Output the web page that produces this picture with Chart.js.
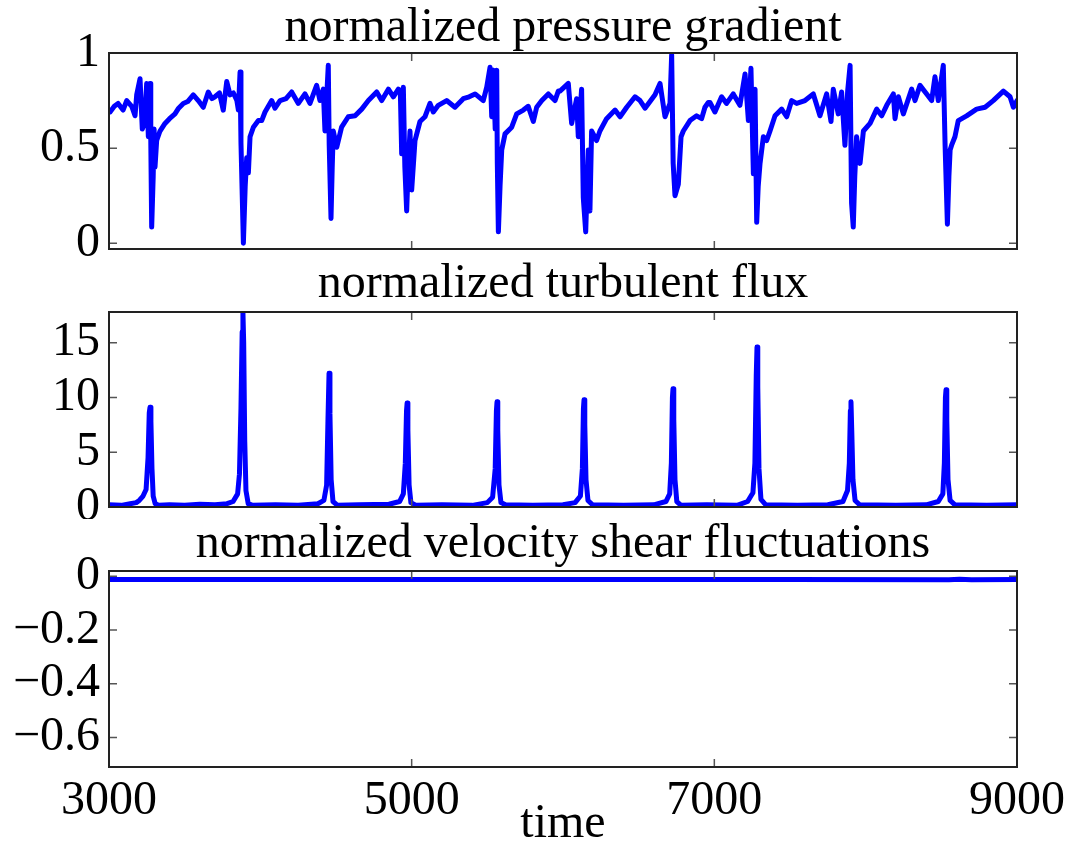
<!DOCTYPE html>
<html>
<head>
<meta charset="utf-8">
<script src="https://cdn.jsdelivr.net/npm/chart.js@4"></script>
<style>
  html, body { margin: 0; padding: 0; background: #fff; }
  .panel { position: absolute; left: 0; }
</style>
</head>
<body>
<div class="panel" style="top:0px"><canvas id="pressure-chart" width="1084" height="260"></canvas></div>
<div class="panel" style="top:260px"><canvas id="flux-chart" width="1084" height="259"></canvas></div>
<div class="panel" style="top:519px"><canvas id="shear-chart" width="1084" height="326"></canvas></div>
<script>
// x axis (time)
const xTicks = [3000, 5000, 7000, 9000];

// normalized pressure gradient
const pgTime = [3000, 3007, 3035, 3060, 3093, 3117, 3150, 3172, 3183, 3205, 3220, 3235, 3249, 3260, 3271, 3276, 3282, 3292, 3298, 3304,
  3315, 3337, 3370, 3400, 3436, 3460, 3491, 3520, 3557, 3590, 3623, 3656, 3680, 3700, 3730, 3755, 3778, 3800, 3822, 3845,
  3855, 3866, 3872, 3888, 3900, 3910, 3921, 3932, 3954, 3987, 4009, 4031, 4075, 4097, 4130, 4170, 4207, 4251, 4295, 4328,
  4372, 4394, 4416, 4427, 4449, 4455, 4467, 4475, 4482, 4505, 4537, 4581, 4626, 4670, 4714, 4769, 4802, 4846, 4879, 4912,
  4925, 4934, 4945, 4955, 4967, 4978, 4989, 5000, 5022, 5055, 5088, 5121, 5143, 5176, 5231, 5286, 5341, 5380, 5419, 5473,
  5496, 5518, 5529, 5540, 5552, 5562, 5566, 5573, 5584, 5595, 5617, 5661, 5694, 5738, 5770, 5804, 5826, 5860, 5903, 5947,
  5969, 5980, 6035, 6057, 6090, 6101, 6123, 6134, 6150, 6167, 6178, 6189, 6222, 6244, 6288, 6344, 6377, 6421, 6476, 6509,
  6542, 6608, 6641, 6674, 6707, 6718, 6728, 6740, 6762, 6780, 6795, 6839, 6883, 6916, 6938, 6960, 6971, 7004, 7048, 7081,
  7125, 7169, 7203, 7225, 7242, 7258, 7269, 7280, 7290, 7302, 7324, 7346, 7368, 7401, 7445, 7478, 7511, 7544, 7599, 7654,
  7698, 7742, 7771, 7786, 7819, 7841, 7863, 7881, 7897, 7907, 7918, 7928, 7940, 7963, 7985, 8029, 8073, 8106, 8139, 8183,
  8194, 8216, 8249, 8304, 8326, 8359, 8403, 8436, 8458, 8480, 8513, 8525, 8540, 8550, 8558, 8570, 8590, 8612, 8667, 8733,
  8789, 8843, 8910, 8954, 8976, 9000];
const pgValue = [0.70, 0.69, 0.72, 0.735, 0.70, 0.75, 0.72, 0.67, 0.78, 0.865, 0.60, 0.63, 0.84, 0.56, 0.84, 0.55, 0.085, 0.35, 0.60, 0.40,
  0.54, 0.59, 0.63, 0.655, 0.68, 0.71, 0.735, 0.745, 0.78, 0.75, 0.715, 0.795, 0.76, 0.77, 0.79, 0.70, 0.85, 0.78, 0.79, 0.75,
  0.70, 0.90, 0.53, 0.0, 0.30, 0.45, 0.37, 0.56, 0.61, 0.645, 0.645, 0.69, 0.75, 0.71, 0.75, 0.76, 0.795, 0.735, 0.785, 0.735,
  0.83, 0.75, 0.81, 0.59, 0.935, 0.52, 0.13, 0.40, 0.59, 0.505, 0.61, 0.665, 0.67, 0.705, 0.75, 0.795, 0.75, 0.81, 0.77, 0.81,
  0.80, 0.47, 0.82, 0.40, 0.17, 0.42, 0.59, 0.28, 0.54, 0.64, 0.665, 0.735, 0.69, 0.725, 0.75, 0.715, 0.76, 0.77, 0.785, 0.75,
  0.82, 0.925, 0.665, 0.91, 0.60, 0.91, 0.42, 0.06, 0.30, 0.49, 0.575, 0.61, 0.68, 0.70, 0.72, 0.64, 0.715, 0.75, 0.785, 0.75,
  0.80, 0.80, 0.84, 0.63, 0.76, 0.56, 0.81, 0.24, 0.06, 0.49, 0.17, 0.59, 0.54, 0.59, 0.655, 0.70, 0.665, 0.715, 0.77, 0.75,
  0.71, 0.78, 0.84, 0.665, 0.735, 0.99, 0.42, 0.25, 0.31, 0.56, 0.59, 0.645, 0.67, 0.655, 0.715, 0.74, 0.74, 0.69, 0.77, 0.735,
  0.785, 0.725, 0.89, 0.645, 0.92, 0.365, 0.81, 0.11, 0.30, 0.42, 0.56, 0.54, 0.59, 0.67, 0.705, 0.665, 0.75, 0.735, 0.75, 0.785,
  0.67, 0.785, 0.64, 0.81, 0.68, 0.795, 0.515, 0.80, 0.935, 0.21, 0.085, 0.35, 0.56, 0.42, 0.59, 0.63, 0.705, 0.67, 0.725, 0.785,
  0.655, 0.77, 0.68, 0.81, 0.75, 0.83, 0.785, 0.75, 0.875, 0.75, 0.935, 0.51, 0.10, 0.35, 0.49, 0.52, 0.56, 0.645, 0.67, 0.705,
  0.715, 0.75, 0.80, 0.77, 0.715, 0.75];
const pgTicks = [0, 0.5, 1];

// normalized turbulent flux
const tfTime = [3000, 3080, 3140, 3180, 3200, 3225, 3245, 3258, 3266, 3271, 3277, 3284, 3292, 3305, 3330,
  3400, 3500, 3600, 3700, 3780, 3820, 3850, 3862, 3872, 3880, 3885, 3890, 3897, 3905, 3920, 3950,
  4100, 4250, 4380, 4420, 4438, 4447, 4454, 4460, 4468, 4480, 4510,
  4650, 4850, 4920, 4945, 4958, 4966, 4970, 4975, 4983, 4995, 5030,
  5200, 5400, 5500, 5535, 5552, 5560, 5564, 5569, 5577, 5590, 5620,
  5800, 6000, 6080, 6115, 6128, 6135, 6139, 6144, 6152, 6165, 6195,
  6400, 6600, 6680, 6705, 6716, 6723, 6727, 6732, 6740, 6752, 6780,
  6950, 7150, 7220, 7255, 7268, 7277, 7282, 7287, 7295, 7308, 7340,
  7550, 7750, 7850, 7880, 7892, 7899, 7903, 7908, 7916, 7930, 7960,
  8200, 8400, 8480, 8510, 8520, 8527, 8531, 8536, 8544, 8558, 8590,
  8800, 9000];
const tfValue = [0.2, 0.15, 0.3, 0.4, 0.6, 1.0, 1.6, 4.5, 8.6, 9.1, 7.8, 3.5, 1.0, 0.3, 0.15,
  0.2, 0.15, 0.25, 0.2, 0.3, 0.5, 1.2, 3.0, 9.0, 16.0, 17.8, 15.0, 6.0, 1.5, 0.3, 0.15,
  0.2, 0.15, 0.3, 0.6, 2.0, 8.0, 12.2, 8.5, 2.5, 0.5, 0.15,
  0.2, 0.25, 0.5, 1.2, 4.0, 8.8, 9.5, 7.0, 2.0, 0.4, 0.15,
  0.2, 0.15, 0.4, 0.9, 3.5, 8.8, 9.6, 7.0, 2.0, 0.4, 0.2,
  0.15, 0.2, 0.4, 1.0, 3.5, 9.0, 9.8, 7.5, 2.5, 0.6, 0.2,
  0.15, 0.2, 0.5, 1.2, 4.0, 10.0, 10.8, 8.0, 2.5, 0.5, 0.15,
  0.2, 0.15, 0.5, 1.3, 4.0, 12.0, 14.6, 11.0, 3.5, 0.7, 0.2,
  0.15, 0.2, 0.5, 1.5, 4.0, 8.8, 9.6, 7.0, 2.5, 0.6, 0.2,
  0.15, 0.2, 0.5, 1.2, 4.0, 10.0, 10.7, 8.0, 2.5, 0.6, 0.2,
  0.15, 0.2];
const tfTicks = [0, 5, 10, 15];

// normalized velocity shear fluctuations
const vsTime = [3000, 4500, 6000, 7500, 8550, 8620, 8700, 9000];
const vsValue = [-0.012, -0.012, -0.012, -0.012, -0.013, -0.011, -0.013, -0.012];
const vsTicks = [-0.6, -0.4, -0.2, 0];

Chart.defaults.font.family = '"Liberation Serif", "Times New Roman", serif';
Chart.defaults.font.size = 48;
Chart.defaults.color = '#000';

// box around the plot area, with ticks pointing inwards
const frame = {
  id: 'frame',
  afterDatasetsDraw(chart) {
    const { ctx, chartArea: a, scales: { x, y } } = chart;
    ctx.save();
    ctx.strokeStyle = '#555';
    ctx.lineWidth = 1.5;
    ctx.beginPath();
    x.ticks.forEach(t => {
      const px = x.getPixelForValue(t.value);
      ctx.moveTo(px, a.bottom); ctx.lineTo(px, a.bottom - 8);
      ctx.moveTo(px, a.top); ctx.lineTo(px, a.top + 8);
    });
    y.ticks.forEach(t => {
      const py = y.getPixelForValue(t.value);
      ctx.moveTo(a.left, py); ctx.lineTo(a.left + 8, py);
      ctx.moveTo(a.right, py); ctx.lineTo(a.right - 8, py);
    });
    ctx.stroke();
    ctx.strokeStyle = '#222';
    ctx.lineWidth = 2;
    ctx.strokeRect(a.left, a.top, a.width, a.height);
    ctx.restore();
  }
};

function fmt(v) {
  return v < 0 ? '\u2212' + Math.abs(v) : String(v);
}

function makeChart(id, times, values, yMin, yMax, yTicks, title, titlePad, bottomPad, showX) {
  const ctx = document.getElementById(id).getContext('2d');
  return new Chart(ctx, {
    type: 'line',
    data: {
      datasets: [{
        data: times.map((t, i) => ({ x: t, y: values[i] })),
        borderColor: '#0000ff',
        borderWidth: 5,
        borderJoinStyle: 'round',
        borderCapStyle: 'round',
        pointRadius: 0,
        tension: 0
      }]
    },
    options: {
      responsive: false,
      animation: false,
      devicePixelRatio: 1,
      layout: { padding: { left: 0, right: 67, top: 0, bottom: bottomPad } },
      plugins: {
        legend: { display: false },
        tooltip: { enabled: false },
        title: {
          display: true,
          fullSize: false,
          text: title,
          color: '#000',
          font: { size: 48, weight: 'normal', lineHeight: 1 },
          padding: titlePad
        }
      },
      scales: {
        x: {
          type: 'linear',
          min: 3000,
          max: 9000,
          display: showX,
          afterBuildTicks: s => { s.ticks = xTicks.map(v => ({ value: v })); },
          afterFit: s => { s.height = showX ? 78 : 0; s.paddingLeft = 0; s.paddingRight = 0; },
          grid: { display: false, drawTicks: false },
          border: { display: false },
          ticks: { padding: 10, maxRotation: 0, autoSkip: false, font: { size: 48, lineHeight: 1 }, callback: v => String(v) },
          title: { display: true, text: 'time', font: { size: 48, lineHeight: 1 }, padding: { top: 0, bottom: -3 } }
        },
        y: {
          min: yMin,
          max: yMax,
          afterBuildTicks: s => { s.ticks = yTicks.map(v => ({ value: v })); },
          afterFit: s => { s.width = 109; s.paddingTop = 0; s.paddingBottom = 0; },
          grid: { display: false, drawTicks: false },
          border: { display: false },
          ticks: { padding: 9, autoSkip: false, font: { size: 48, lineHeight: 1 }, callback: v => fmt(v) }
        }
      }
    },
    plugins: [frame]
  });
}

var pressureChart = makeChart('pressure-chart', pgTime, pgValue, -0.03, 1.0, pgTicks,
  'normalized pressure gradient', { top: 4, bottom: 1 }, 11, false);
var fluxChart = makeChart('flux-chart', tfTime, tfValue, 0, 17.8, tfTicks,
  'normalized turbulent flux', { top: 0, bottom: 4 }, 12, false);
var shearChart = makeChart('shear-chart', vsTime, vsValue, -0.71, 0.02, vsTicks,
  'normalized velocity shear fluctuations', { top: 1, bottom: 3 }, 0, true);
</script>
</body>
</html>
